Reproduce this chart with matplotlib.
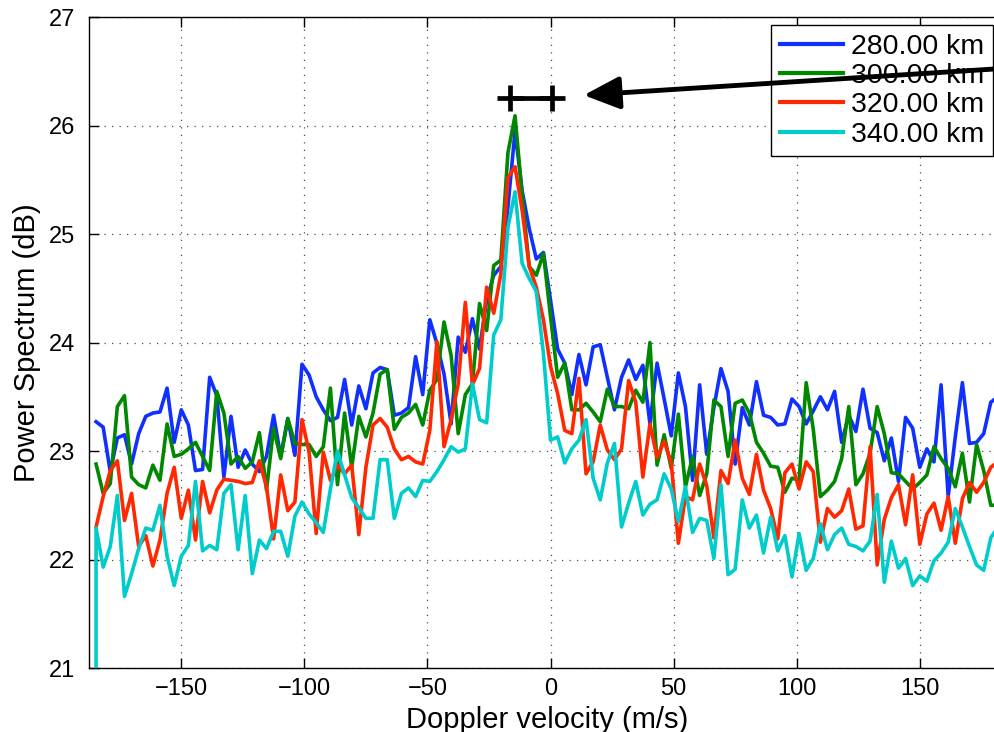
#!/usr/bin/env python3
# -*- coding: utf-8 -*-
"""
Doppler spectra at four altitudes (MATLAB-style figure)
"""

import matplotlib
matplotlib.use('Agg')
import matplotlib.pyplot as plt
import numpy as np
from matplotlib import rcParams

rcParams['font.family'] = ['Liberation Sans', 'DejaVu Sans']
rcParams['font.size'] = 17
rcParams['axes.linewidth'] = 1.0

# velocity bins (128-point FFT, bin 64 = 0 m/s)
n_bins = 128
dv = 2.883
velocity = (np.arange(n_bins) - 64) * dv

labels = ['280.00 km', '300.00 km', '320.00 km', '340.00 km']
colors = ['#1030ff', '#008800', '#ff2800', '#00cccc']

p280 = [23.27, 23.22, 22.81, 23.12, 23.15, 22.88, 23.16, 23.32, 23.35, 23.36, 23.58, 23.08, 23.38, 23.24, 22.82, 22.83,
        23.68, 23.51, 22.76, 23.32, 22.85, 23.01,
        22.88, 22.81, 22.95, 23.33, 22.95, 23.30, 22.96, 23.80, 23.70, 23.50, 23.38, 23.28, 23.31, 23.66, 23.24, 23.60,
        23.39, 23.72, 23.77, 23.75, 23.33, 23.35,
        23.40,
        23.87, 23.52, 24.21, 23.99, 23.71, 23.25, 24.05, 23.91, 24.22, 23.94, 24.39, 24.62, 24.70, 25.25, 25.95,
        25.40, 25.05, 24.77, 24.83, 24.39, 23.94, 23.81, 23.52, 23.89, 23.61, 23.96, 23.98, 23.68, 23.38, 23.68, 23.84,
        23.66,
        23.79, 23.25, 23.81, 23.48, 23.14, 23.72, 23.41, 22.73, 23.61, 22.97, 23.40, 23.76, 23.55, 22.88, 23.40, 23.24,
        23.64, 23.33, 23.31, 23.24, 23.25, 23.48, 23.41, 23.25, 23.37,
        23.50, 23.38, 23.55, 23.08, 23.33, 23.18, 23.57, 23.21, 23.17, 22.91, 23.12, 22.72, 23.31, 23.21, 22.85, 23.02,
        22.90, 23.61, 22.58, 23.13, 23.63, 23.07, 23.08, 23.16, 23.45, 23.50]

p300 = [22.88, 22.61, 22.70, 23.41, 23.51, 22.76, 22.69, 22.66, 22.87, 22.73, 23.25, 22.95, 22.97, 23.02, 23.08, 22.95,
        22.82, 23.55, 23.35, 22.88, 22.95, 22.84,
        22.90, 23.17, 22.64, 23.21, 22.93, 23.30, 23.07, 23.06, 23.06, 22.95, 23.04, 23.58, 22.69, 23.35, 22.85, 23.32,
        23.13, 23.35, 23.71, 23.75, 23.20, 23.31,
        23.35,
        23.43, 23.24, 23.56, 23.66, 24.19, 23.88, 23.16, 23.52, 23.62, 24.36, 24.11, 24.71, 24.76, 25.75, 26.09,
        25.36, 24.70, 24.62, 24.82, 24.24, 23.68, 23.81, 23.38, 23.38, 23.44, 23.36, 23.27, 23.57, 23.41, 23.41, 23.39,
        23.56,
        23.45, 24.00, 22.87, 23.15, 22.84, 23.34, 22.67, 22.95, 22.59, 22.79, 23.47, 23.41, 22.95, 23.44, 23.47, 23.35,
        23.08, 22.98, 22.86, 22.85, 22.62, 22.75, 22.73, 23.63, 23.20,
        22.58, 22.64, 22.72, 22.93, 23.41, 22.69, 22.79, 22.98, 23.41, 23.16, 22.80, 22.79, 22.72, 22.65, 22.71, 22.78,
        23.04, 22.93, 22.84, 22.67, 22.98, 22.53, 23.06, 22.82, 22.50, 22.50]

p320 = [22.30, 22.58, 22.82, 22.91, 22.36, 22.61, 22.12, 22.22, 21.94, 22.18, 22.61, 22.85, 22.38, 22.64, 22.18, 22.72,
        22.43, 22.64, 22.74, 22.73, 22.72, 22.70,
        22.71, 22.91, 22.67, 22.19, 22.78, 22.45, 22.53, 23.29, 22.99, 22.24, 22.99, 22.73, 22.87, 22.79, 22.87, 22.23,
        22.85, 23.24, 23.30, 23.22, 23.02, 22.92,
        22.95,
        22.90, 22.88, 23.19, 24.01, 23.04, 23.29, 23.62, 24.37, 23.61, 23.76, 24.51, 24.27, 24.63, 25.52, 25.62,
        25.22, 24.70, 24.51, 24.21, 23.78, 23.53, 23.19, 23.16, 23.67, 22.79, 22.90, 23.24, 23.01, 22.92, 23.02, 23.65,
        23.45,
        22.76, 23.25, 22.94, 23.09, 22.89, 22.15, 22.58, 22.55, 22.88, 22.68, 22.20, 22.82, 22.70, 23.10, 22.75, 22.60,
        22.97, 22.64, 22.47, 22.19, 22.80, 22.88, 22.65, 22.90, 22.81,
        22.16, 22.47, 22.39, 22.45, 22.65, 22.28, 22.31, 23.04, 21.95, 22.37, 22.57, 22.69, 22.32, 22.78, 22.14, 22.42,
        22.52, 22.27, 22.58, 22.15, 22.56, 22.71, 22.62, 22.71, 22.85, 22.90]

p340 = [22.29, 21.93, 22.12, 22.59, 21.66, 21.87, 22.10, 22.29, 22.27, 22.50, 22.03, 21.76, 22.03, 22.13, 22.72, 22.08,
        22.13, 22.09, 22.61, 22.69, 22.09, 22.59,
        21.87, 22.18, 22.10, 22.26, 22.26, 22.03, 22.40, 22.53, 22.42, 22.34, 22.25, 22.65, 23.00, 22.78, 22.57, 22.48,
        22.38, 22.38, 22.92, 22.92, 22.38, 22.61,
        22.66,
        22.58, 22.73, 22.72, 22.81, 22.92, 23.04, 22.99, 23.02, 23.62, 23.29, 23.26, 24.07, 24.21, 25.06, 25.39,
        24.73, 24.59, 24.47, 23.90, 23.10, 23.13, 22.89, 23.02, 23.10, 23.29, 22.75, 22.55, 22.89, 23.07, 22.30, 22.52,
        22.72,
        22.41, 22.51, 22.55, 22.79, 22.65, 22.35, 22.67, 22.25, 22.38, 22.36, 22.01, 22.69, 21.86, 21.91, 22.55, 22.29,
        22.41, 22.06, 22.39, 22.08, 22.22, 21.84, 22.24, 21.90, 22.01,
        22.33, 22.09, 22.23, 22.29, 22.14, 22.12, 22.08, 22.17, 22.60, 21.79, 22.17, 21.92, 22.01, 21.76, 21.85, 21.80,
        21.99, 22.06, 22.16, 22.47, 22.30, 22.12, 21.95, 21.90, 22.20, 22.30]
# first 340 km sample drops far below the axis
p340_dropout = 15.0

# estimated Doppler shift with its spread, and arrow pointing at it
shift_lo, shift_hi, shift_y = -16.4, 0.5, 26.25
arrow_head = (13.5, 26.28)
arrow_tail = (200.0, 26.55)


def plot_spectra(out_file):
    fig = plt.figure(figsize=(9.95, 7.32), dpi=100)
    ax = fig.add_axes([0.0899, 0.0874, 0.9268, 0.8893])

    series = [p280, p300, p320, p340]
    for i, vals in enumerate(series):
        if i == 3:
            x = np.r_[velocity[0], velocity]
            y = np.r_[p340_dropout, vals]
        else:
            x, y = velocity, np.array(vals)
        ax.plot(x, y, color=colors[i], lw=2.6, label=labels[i], zorder=3)

    # spread marker +---+
    ax.plot([shift_lo, shift_hi], [shift_y, shift_y], '-+', color='k',
            lw=3.4, ms=19, mew=3.4, zorder=4)

    ax.set_xlim(-187.2, 187.2)
    ax.set_ylim(21, 27)
    ax.set_xticks([-150, -100, -50, 0, 50, 100, 150])
    ax.set_yticks([21, 22, 23, 24, 25, 26, 27])
    ax.tick_params(direction='in', length=7, width=1, top=True, right=True,
                   labelsize=17)
    ax.tick_params(axis='x', pad=7)
    ax.tick_params(axis='y', pad=10)
    ax.grid(True, linestyle=(0, (1, 5)), color='k', lw=0.9, alpha=0.7)

    ax.set_xlabel('Doppler velocity (m/s)', fontsize=21)
    ax.set_ylabel('Power Spectrum (dB)', fontsize=21)
    ax.xaxis.set_label_coords(0.496, -0.058)
    ax.yaxis.set_label_coords(-0.052, 0.5)

    leg = ax.legend(loc='upper right', bbox_to_anchor=(0.9797, 0.9877),
                    borderaxespad=0, fontsize=20.5, frameon=True, fancybox=False,
                    edgecolor='black', framealpha=1, handlelength=2.2,
                    handletextpad=0.3, labelspacing=0.12, borderpad=0.3)
    leg.get_frame().set_linewidth(1.0)
    leg.set_zorder(5)
    for line in leg.get_lines():
        line.set_linewidth(3)

    ax.annotate('', xy=arrow_head, xytext=arrow_tail,
                arrowprops=dict(arrowstyle='-|>,head_length=1.1,head_width=0.5',
                                lw=3.5, color='k', mutation_scale=20,
                                shrinkA=0, shrinkB=0),
                annotation_clip=False, zorder=6)

    fig.savefig(out_file, dpi=100)
    plt.close(fig)


def main():
    plot_spectra('out.png')


if __name__ == '__main__':
    main()
